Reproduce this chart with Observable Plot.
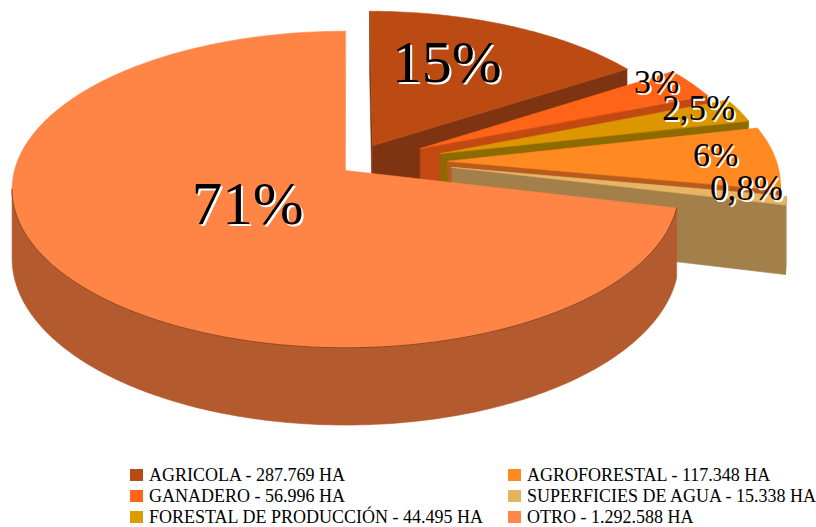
<!DOCTYPE html>
<html>
<head>
<meta charset="utf-8">
<script src="https://cdn.jsdelivr.net/npm/d3@7"></script>
<script src="https://cdn.jsdelivr.net/npm/@observablehq/plot@0.6"></script>
<style>
  html, body { margin: 0; padding: 0; background: #fff; }
  #wrap { width: 816px; position: relative; }
  #chart svg text { font-family: "Liberation Serif", "Times New Roman", serif; }
  #legend { position: relative; width: 816px; height: 65px; font-family: "Liberation Serif", "Times New Roman", serif; font-size: 18px; color: #000; }
  .item { position: absolute; height: 20px; line-height: 20px; white-space: nowrap; display: flex; align-items: center; }
  .sw { width: 13px; height: 12px; margin-right: 6px; display: inline-block; }
</style>
</head>
<body>
<div id="wrap">
  <div id="chart"></div>
  <div id="legend"></div>
</div>
<script>
// ---- data ----
const categories = ["AGRICOLA", "GANADERO", "FORESTAL DE PRODUCCIÓN", "AGROFORESTAL", "SUPERFICIES DE AGUA", "OTRO"];
const hectares = [287769, 56996, 44495, 117348, 15338, 1292588];
const hectareLabels = ["287.769", "56.996", "44.495", "117.348", "15.338", "1.292.588"];
const percentLabels = ["15%", "3%", "2,5%", "6%", "0,8%", "71%"];

// ---- style / layout config ----
const topColors = ["#BC4A13", "#FF6418", "#DC9600", "#FF8A22", "#E8B466", "#FF8546"];
const faceColors = ["#7E3410", "#C24A12", "#8E6B00", "#B85C1E", "#A38049", "#B35A2E"];
const legendColors = ["#B84A16", "#FF6619", "#DE9B00", "#FF8A22", "#E6B461", "#FF8548"];
const explodeDist = [0.183, 0.271, 0.311, 0.317, 0.323, 0];
const explodeDir = [27, 58.1, 69.3, 79.1, 86.4, 0];
const labelR = [0.643, 0.905, 0.884, 0.821, 0.883, 0.358];
const labelDA = [-5.6, -3.4, -3.1, -1.5, -3.3, 1.85];
const labelSize = [60, 34, 35, 34, 35, 61];
const legendCol = [0, 0, 0, 1, 1, 1];
const legendRow = [0, 1, 2, 0, 1, 2];

const W = 816, H = 462;
const cx = 345, cy = 170, B = 331, A = 156, P = 0.12, D = 68;
const rad = Math.PI / 180;
const serif = "Liberation Serif, Times New Roman, serif";

function proj(U, V, h) {
  const k = 1 + P * V;
  return {x: cx + B * U / k, y: cy - A * V / k + h * D / k};
}
function area(pts) {
  let s = 0;
  for (let i = 0; i < pts.length; i++) {
    const a = pts[i], b = pts[(i + 1) % pts.length];
    s += a.x * b.y - b.x * a.y;
  }
  return s;
}

const arcs = d3.pie().sort(null).value(d => d).startAngle(0).endAngle(2 * Math.PI)(hectares);

const faces = [];
const rims = [];
const labels = [];
arcs.forEach((a, i) => {
  const ex = explodeDist[i] * Math.sin(explodeDir[i] * rad);
  const ez = explodeDist[i] * Math.cos(explodeDir[i] * rad);
  const rim = (t, h) => proj(ex + Math.sin(t), ez + Math.cos(t), h);
  const apex = h => proj(ex, ez, h);
  const a0 = a.startAngle, a1 = a.endAngle;
  const n = Math.max(2, Math.ceil((a1 - a0) / (1 * rad)));
  const ts = d3.range(n + 1).map(k => a0 + (a1 - a0) * k / n);

  const sf = [apex(0), rim(a0, 0), rim(a0, 1), apex(1)];
  if (area(sf) < -1) faces.push({pts: sf, fill: faceColors[i]});
  const ef = [apex(0), rim(a1, 0), rim(a1, 1), apex(1)];
  if (area(ef) > 1) faces.push({pts: ef, fill: faceColors[i]});

  const vis = [];
  for (let k = 0; k < n; k++) {
    const q = [rim(ts[k], 0), rim(ts[k + 1], 0), rim(ts[k + 1], 1), rim(ts[k], 1)];
    if (area(q) < 0) vis.push(k);
  }
  if (vis.length) {
    const k0 = vis[0], k1 = vis[vis.length - 1] + 1;
    const topArc = d3.range(k0, k1 + 1).map(k => rim(ts[k], 0));
    const botArc = d3.range(k1, k0 - 1, -1).map(k => rim(ts[k], 1));
    faces.push({pts: topArc.concat(botArc), fill: faceColors[i]});
    if (i === arcs.length - 1) rims.push(topArc);
  }
  faces.push({pts: [apex(0)].concat(ts.map(t => rim(t, 0))), fill: topColors[i]});

  const mid = (a0 + a1) / 2 + labelDA[i] * rad;
  const lp = proj(ex + labelR[i] * Math.sin(mid), ez + labelR[i] * Math.cos(mid), 0);
  labels.push({x: lp.x, y: lp.y, text: percentLabels[i], size: labelSize[i]});
});

const marks = [];
faces.forEach(f => {
  marks.push(Plot.line(f.pts, {x: "x", y: "y", fill: f.fill, stroke: f.fill, strokeWidth: 0.6, curve: "linear-closed"}));
});
rims.forEach(r => {
  marks.push(Plot.line(r, {x: "x", y: "y", stroke: "#3a1a08", strokeOpacity: 0.7, strokeWidth: 0.8}));
});
labels.forEach(l => {
  marks.push(Plot.text([l], {x: "x", y: "y", text: "text", fontSize: l.size, fontFamily: serif, fill: "white", dx: 2, dy: 2}));
  marks.push(Plot.text([l], {x: "x", y: "y", text: "text", fontSize: l.size, fontFamily: serif, fill: "black"}));
});

const chart = Plot.plot({
  width: W, height: H, margin: 0,
  x: {domain: [0, W], range: [0, W], axis: null},
  y: {domain: [0, H], range: [0, H], axis: null},
  style: {background: "white", overflow: "visible", fontFamily: serif},
  marks
});
document.getElementById("chart").appendChild(chart);

const leg = document.getElementById("legend");
categories.forEach((c, i) => {
  const it = document.createElement("div");
  it.className = "item";
  it.style.left = (legendCol[i] ? 508 : 130) + "px";
  it.style.top = (3 + legendRow[i] * 21) + "px";
  const sw = document.createElement("span");
  sw.className = "sw";
  sw.style.background = legendColors[i];
  it.appendChild(sw);
  it.appendChild(document.createTextNode(c + " - " + hectareLabels[i] + " HA"));
  leg.appendChild(it);
});
</script>
</body>
</html>
